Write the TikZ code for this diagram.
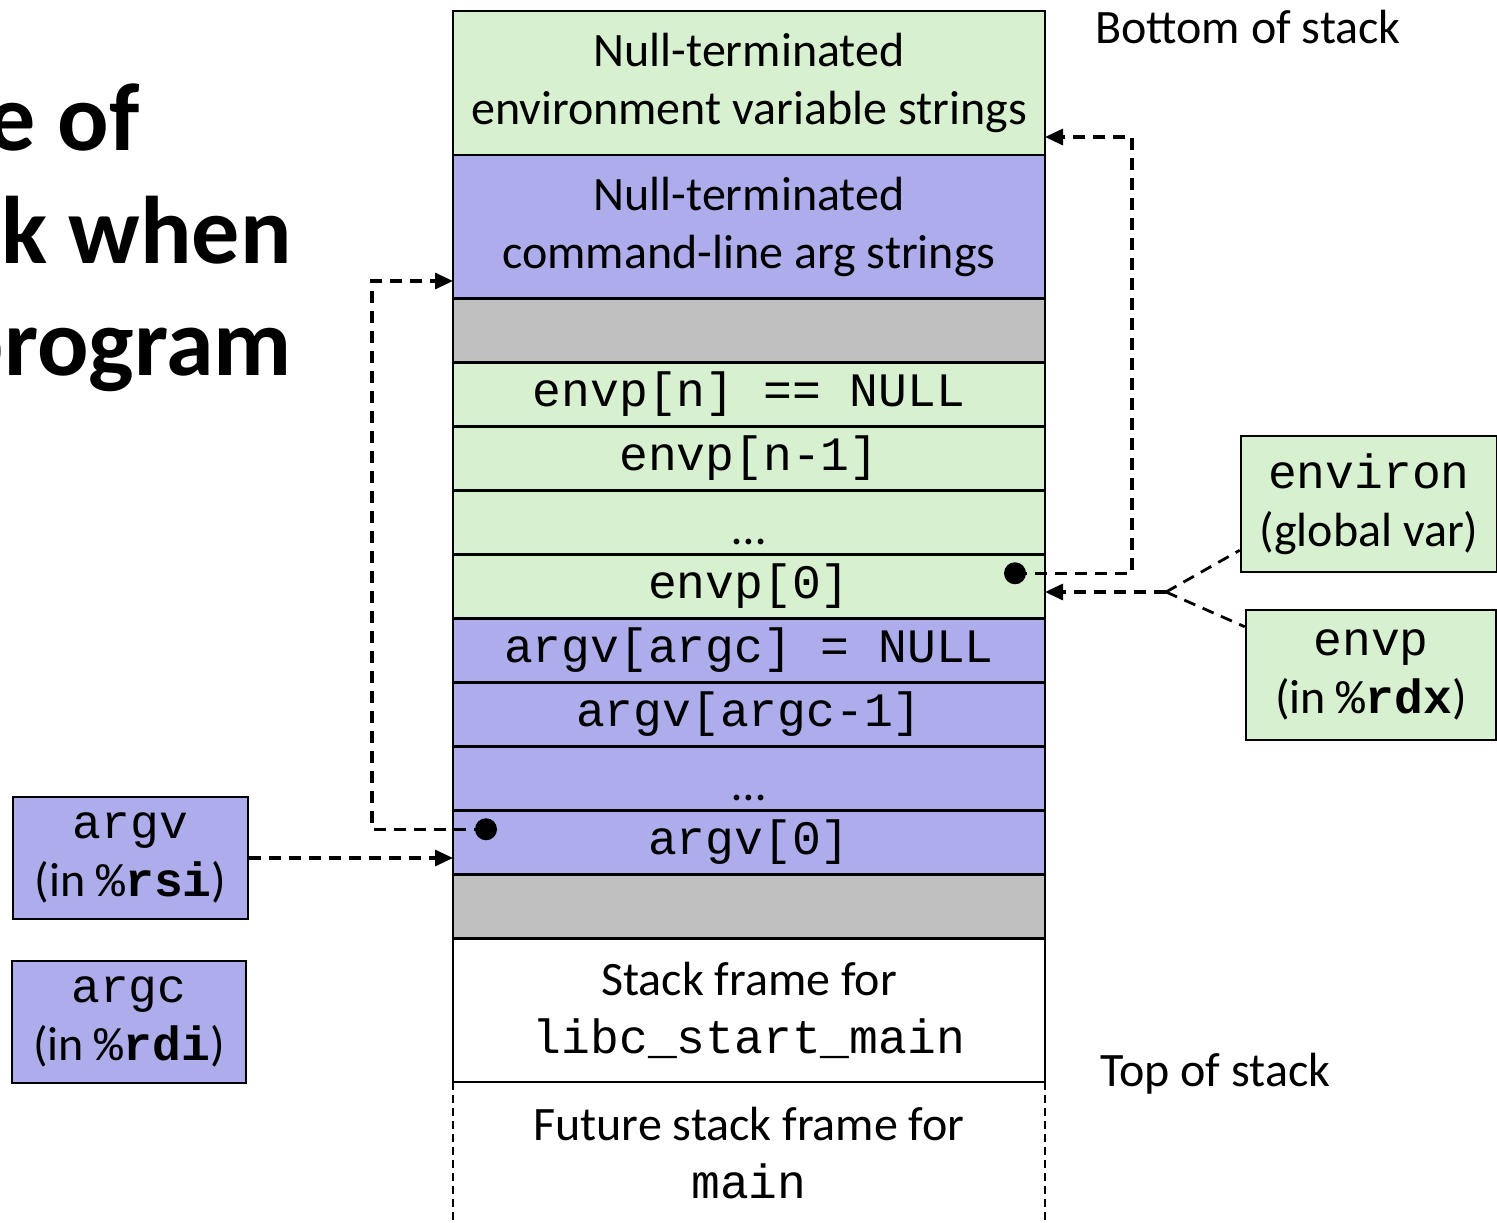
\documentclass[tikz,border=0pt]{standalone}
\usepackage{fontspec}
\setmainfont{Carlito}
\setmonofont{Liberation Mono}
\usetikzlibrary{positioning,arrows.meta}

\definecolor{envgreen}{RGB}{214,240,208}
\definecolor{argblue}{RGB}{173,173,235}
\definecolor{padgray}{RGB}{192,192,192}

\begin{document}
\begin{tikzpicture}[x=1pt,y=-1pt,
		cell/.style={rectangle,draw=black,line width=2.5pt,outer sep=0pt,inner sep=0pt,minimum width=592pt,align=center,font=\fontsize{48}{58}\selectfont},
		bigcell/.style={cell,minimum height=143.5pt},
		slot/.style={cell,minimum height=64pt},
		reg/.style={rectangle,draw=black,line width=2.5pt,inner sep=0pt,align=center,font=\fontsize{48}{58}\selectfont},
		pdot/.style={circle,fill=black,inner sep=0pt,minimum size=22pt},
		ptr/.style={line width=3.2pt,dash pattern=on 12pt off 8pt,-{Triangle[length=18pt,width=16pt]}},
		link/.style={line width=2.8pt,dash pattern=on 12pt off 8pt},
		title/.style={font=\fontsize{96}{106}\selectfont\bfseries,inner sep=0pt,anchor=base east},
		note/.style={font=\fontsize{48}{58}\selectfont,inner sep=0pt,anchor=base west}]
		\useasboundingbox (0,0) rectangle (1497,1223);

		\node[title]	(title1)	at (140,150)	{e of};
		\node[title]	(title2)	at (292,263)	{ck when};
		\node[title]	(title3)	at (292,375)	{program};

		\node[bigcell,fill=envgreen]				(envstr)	at (749,83)	{Null-terminated\\environment variable strings};
		\node[bigcell,fill=argblue,below=0pt of envstr]	(argstr)		{Null-terminated\\command-line arg strings};
		\node[slot,fill=padgray,below=0pt of argstr]		(padtop)		{};
		\node[slot,fill=envgreen,below=0pt of padtop]	(envpn)		{\ttfamily envp[n] == NULL};
		\node[slot,fill=envgreen,below=0pt of envpn]		(envpn1)		{\ttfamily envp[n-1]};
		\node[slot,fill=envgreen,below=0pt of envpn1,text height=44pt,text depth=0pt]	(envdots)	{\dots};
		\node[slot,fill=envgreen,below=0pt of envdots]	(envp0)		{\ttfamily envp[0]};
		\node[slot,fill=argblue,below=0pt of envp0]		(argvn)		{\ttfamily argv[argc] = NULL};
		\node[slot,fill=argblue,below=0pt of argvn]		(argvn1)		{\ttfamily argv[argc-1]};
		\node[slot,fill=argblue,below=0pt of argvn1,text height=44pt,text depth=0pt]	(argdots)	{\dots};
		\node[slot,fill=argblue,below=0pt of argdots]	(argv0)		{\ttfamily argv[0]};
		\node[slot,fill=padgray,below=0pt of argv0]		(padlow)		{};
		\node[bigcell,fill=white,below=0pt of padlow]	(libcframe)	{Stack frame for\\\ttfamily libc\_start\_main};
		\node[bigcell,draw=none,below=0pt of libcframe]	(mainframe)	{Future stack frame for\\\ttfamily main};

		\draw[line width=2.2pt,dash pattern=on 8pt off 5pt] (mainframe.north west) -- (mainframe.south west);
		\draw[line width=2.2pt,dash pattern=on 8pt off 5pt] (mainframe.north east) -- (mainframe.south east);

		\node[note]	(bottomnote)	at (1095,44)	{Bottom of stack};
		\node[note]	(topnote)		at (1100,1086)	{Top of stack};

		\node[reg,fill=envgreen,minimum width=256pt,minimum height=136pt]	(environ)	at (1369,504)	{{\ttfamily environ}\\(global var)};
		\node[reg,fill=envgreen,minimum width=250pt,minimum height=130pt]	(envpreg)	at (1371,675)	{{\ttfamily envp}\\(in {\ttfamily\%\textbf{rdx}})};
		\node[reg,fill=argblue,minimum width=235pt,minimum height=122pt]	(argvreg)	at (130.5,858)	{{\ttfamily argv}\\(in {\ttfamily\%\textbf{rsi}})};
		\node[reg,fill=argblue,minimum width=234pt,minimum height=122pt]	(argcreg)	at (129,1022)	{{\ttfamily argc}\\(in {\ttfamily\%\textbf{rdi}})};

		\node[pdot]	(envdot)	at ([xshift=-30pt,yshift=13pt]envp0.east)	{};
		\node[pdot]	(argdot)	at ([xshift=33pt,yshift=13pt]argv0.west)	{};

		\coordinate	(envbend)	at (1132,137);
		\coordinate	(argbend)	at (372,281);
		\coordinate	(fork)		at (1166,592);

		\draw[ptr] (envdot.center) -| (envbend) -- (envbend -| envstr.east);
		\draw[ptr] (fork) -- (fork -| envp0.east);
		\draw[link] (fork) -- ([yshift=23pt]environ.south west);
		\draw[link] (fork) -- ([yshift=-18pt]envpreg.north west);
		\draw[ptr] (argdot.center) -| (argbend) -- (argbend -| argstr.west);
		\draw[ptr] (argvreg.east) -- (argvreg.east -| argv0.west);
	\end{tikzpicture}
\end{document}
